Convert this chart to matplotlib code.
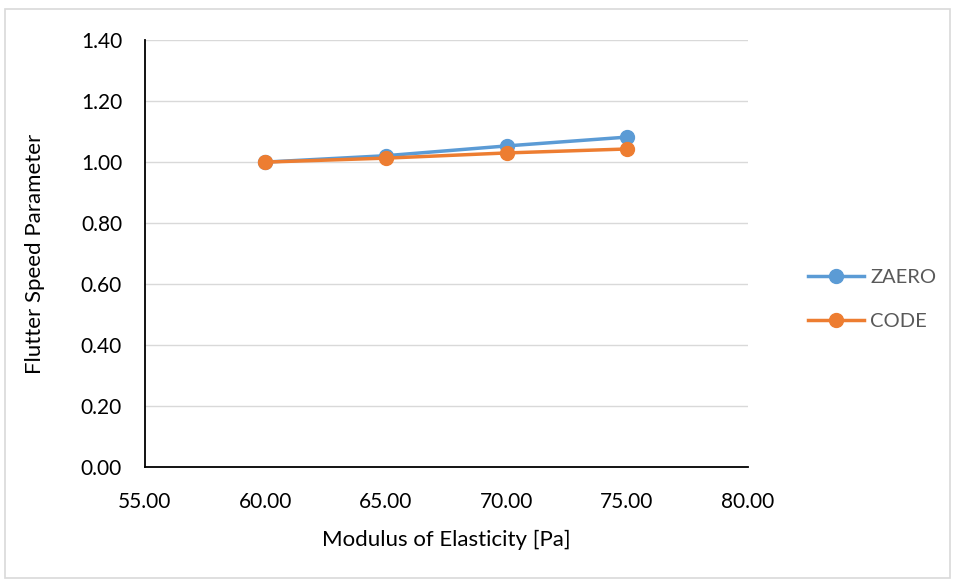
import matplotlib.pyplot as plt
from matplotlib.patches import Rectangle
from matplotlib.ticker import FormatStrFormatter

plt.rcParams['font.family'] = ['Lato', 'DejaVu Sans']

# data
modulus = [60, 65, 70, 75]
zaero = [1.00, 1.021, 1.053, 1.082]
code = [1.00, 1.013, 1.030, 1.043]

fig = plt.figure(figsize=(9.55, 5.81), dpi=100)
ax = fig.add_axes([0.1518, 0.196, 0.631, 0.735])

# light border around the whole chart area
fig.patches.append(Rectangle((0.005, 0.005), 0.99, 0.98, transform=fig.transFigure,
                             fill=False, edgecolor='#d9d9d9', linewidth=1.2))

ax.plot(modulus, zaero, color='#5b9bd5', linewidth=2.5, marker='o', markersize=10, label='ZAERO')
ax.plot(modulus, code, color='#ed7d31', linewidth=2.5, marker='o', markersize=10, label='CODE')

ax.set_xlim(55, 80)
ax.set_ylim(0, 1.4)
ax.set_xticks([55, 60, 65, 70, 75, 80])
ax.set_yticks([0, 0.2, 0.4, 0.6, 0.8, 1.0, 1.2, 1.4])
ax.xaxis.set_major_formatter(FormatStrFormatter('%.2f'))
ax.yaxis.set_major_formatter(FormatStrFormatter('%.2f'))
ax.tick_params(length=0, labelsize=15)
ax.tick_params(axis='y', pad=16.5)
ax.tick_params(axis='x', pad=18)

ax.grid(axis='y', color='#d9d9d9', linewidth=1)
ax.set_axisbelow(True)
for s in ['top', 'right']:
    ax.spines[s].set_visible(False)
ax.spines['left'].set_linewidth(1.3)
ax.spines['bottom'].set_linewidth(1.3)

ax.set_xlabel('Modulus of Elasticity [Pa]', fontsize=16, labelpad=13)
ax.set_ylabel('Flutter Speed Parameter', fontsize=16, labelpad=26)

leg = ax.legend(loc='center left', bbox_to_anchor=(1.07, 0.393), frameon=False,
                fontsize=14.5, handlelength=2.8, labelspacing=1.35, handletextpad=0.3)
for t in leg.get_texts():
    t.set_color('#595959')

fig.savefig('out.png', dpi=100)
